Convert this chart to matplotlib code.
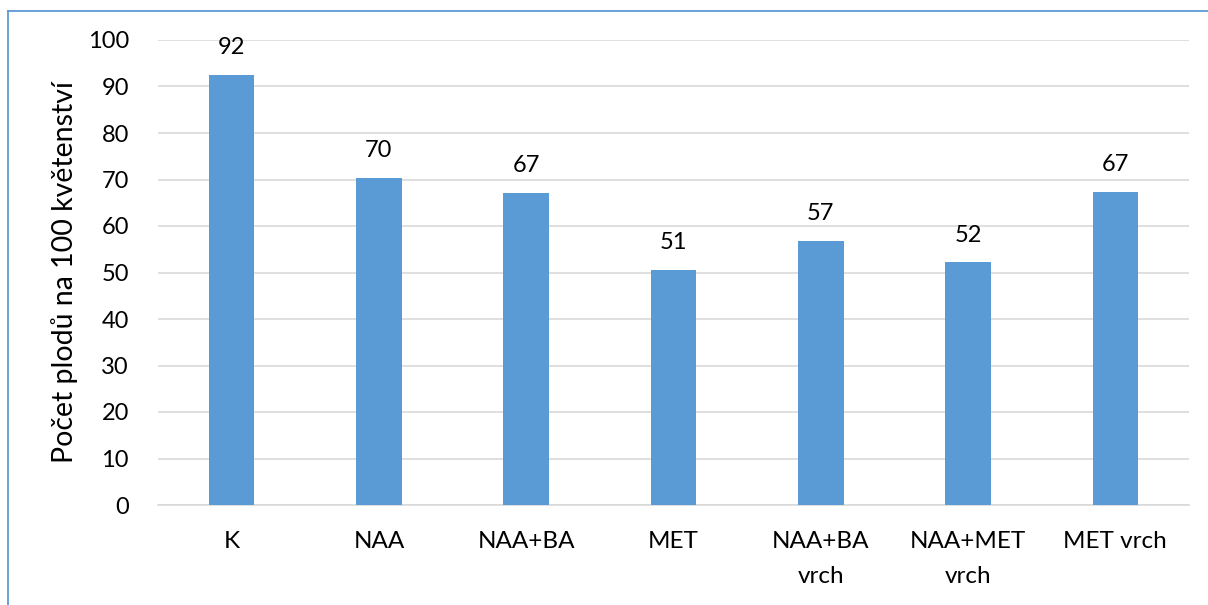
import matplotlib
matplotlib.use("Agg")
import matplotlib.pyplot as plt
import numpy as np

categories = ['K', 'NAA', 'NAA+BA', 'MET', 'NAA+BA\nvrch', 'NAA+MET\nvrch', 'MET vrch']
values = [92.5, 70.4, 67.1, 50.6, 56.8, 52.2, 67.3]
labels = ['92', '70', '67', '51', '57', '52', '67']
yticks = list(range(0, 101, 10))

plt.rcParams['font.family'] = ['Lato', 'DejaVu Sans']

W, H = 1208, 605
fig = plt.figure(figsize=(W / 100, H / 100), dpi=100)
ax = fig.add_axes([158 / W, 1 - 505 / H, (1189 - 158) / W, (505 - 40) / H])

x = np.arange(len(categories))
ax.bar(x, values, width=0.31, color='#5B9BD5', zorder=3)
for xi, v, lab in zip(x, values, labels):
    ax.text(xi, v + 3.6, lab, ha='center', va='bottom', fontsize=17, color='black')

ax.set_xlim(-0.5, len(categories) - 0.5)
ax.set_ylim(0, 100)
ax.set_yticks(yticks)
ax.set_xticks(x)
ax.set_xticklabels(categories, fontsize=17.5, linespacing=1.8, va='top')
ax.tick_params(axis='y', labelsize=17, length=0, pad=21)
ax.tick_params(axis='x', length=0, pad=19)
ax.grid(axis='y', color='#d9d9d9', linewidth=1.2, zorder=0)
for s in ['top', 'right', 'left']:
    ax.spines[s].set_visible(False)
ax.spines['bottom'].set_color('#d9d9d9')
ax.spines['bottom'].set_linewidth(1.2)
ax.set_ylabel('Počet plodů na 100 květenství', fontsize=20.5, labelpad=7)

# frame lines of the surrounding box
fig.add_artist(plt.Line2D([8 / W, 8 / W], [0, 1 - 11 / H], color='#5B9BD5', linewidth=1.3))
fig.add_artist(plt.Line2D([8 / W, 1], [1 - 11 / H, 1 - 11 / H], color='#5B9BD5', linewidth=1.3))

fig.savefig('out.png', dpi=100)
plt.close('all')
